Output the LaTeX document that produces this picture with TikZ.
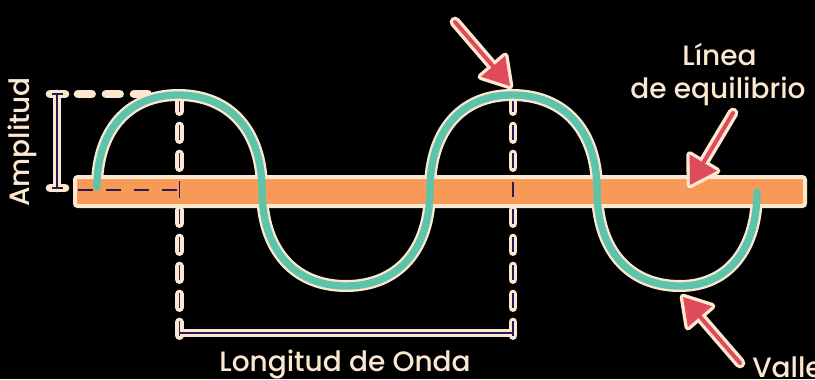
\documentclass[tikz,border=0pt]{standalone}
\usepackage{fontspec}
\setmainfont{Poppins}[UprightFont=* Medium]
\usetikzlibrary{calc}
\definecolor{creamc}{HTML}{FCE7D0}
\definecolor{orangec}{HTML}{F79A57}
\definecolor{tealc}{HTML}{5DC4AB}
\definecolor{redc}{HTML}{E04B5B}
\definecolor{navyc}{HTML}{2B1C55}
\tikzset{
  creamdash/.style={draw=creamc, line width=6.5pt, line cap=round, dash pattern=on 10.25pt off 10.75pt},
  navydash/.style={draw=navyc, line width=1.1pt, dash pattern=on 11.25pt off 9.75pt, dash phase=0.5pt},
  creamline/.style={draw=creamc, line width=6.5pt, line cap=round},
  navyline/.style={draw=navyc, line width=1.1pt},
  txt/.style={text=creamc, font=\fontsize{21}{25}\selectfont, inner sep=0pt},
  wavehalo/.style={draw=creamc, line width=9pt, line cap=round},
  wavecore/.style={draw=tealc, line width=5.5pt, line cap=round},
}
\newcommand\mypointer[3]{% #1 name, #2 start, #3 tip
  \coordinate (#1b) at ($(#3)!19.5pt!(#2)$);
  \coordinate (#1c1) at ($(#1b)!12pt!90:(#3)$);
  \coordinate (#1c2) at ($(#1b)!12pt!-90:(#3)$);
  \draw[creamc, line width=8pt, line cap=round] (#2) -- (#1b);
  \filldraw[creamc, line width=5pt, line join=round] (#3) -- (#1c1) -- (#1c2) -- cycle;
  \draw[redc, line width=3pt, line cap=round] (#2) -- (#1b);
  \fill[redc] (#3) -- (#1c1) -- (#1c2) -- cycle;
}
\begin{document}
\begin{tikzpicture}[x=0.75pt,y=-0.75pt]
\fill[black] (0,0) rectangle (815,379);
\useasboundingbox (0,0) rectangle (815,379);

% key coordinates
\coordinate (w0) at (97,187);
\coordinate (p1) at (178,95);
\coordinate (c1) at (262,190);
\coordinate (t1) at (346,286);
\coordinate (c2) at (430,190);
\coordinate (p2) at (512,95);
\coordinate (c3) at (597,190);
\coordinate (t2) at (680,286);
\coordinate (w1) at (757,192);

\coordinate (v1top) at (179.5,98);
\coordinate (v1bot) at (179.5,336);
\coordinate (v2top) at (513,98);
\coordinate (v2bot) at (513,336);
\coordinate (brl) at (179.5,333);
\coordinate (brr) at (513,333);

\coordinate (amptop) at (57,94);
\coordinate (ampbot) at (57,188);
\coordinate (hd1) at (78,94);
\coordinate (hd2) at (148,94);

% dashed guides (cream)
\draw[creamdash] (v1top) -- (v1bot);
\draw[creamdash] (v2top) -- (v2bot);
\draw[creamdash] (hd1) -- (hd2);
\draw[creamline] (brl) -- (brr);
\draw[creamline] (amptop) -- (ampbot);
\draw[creamline] ($(amptop)+(-7,0)$) -- ($(amptop)+(8,0)$);
\draw[creamline] ($(ampbot)+(-7,0)$) -- ($(ampbot)+(8,0)$);
% navy inner lines
\draw[navydash] (v1top) -- (v1bot);
\draw[navydash] (v2top) -- (v2bot);
\draw[navyline] (brl) -- (brr);
\draw[navyline] (amptop) -- (ampbot);
\draw[navyline] ($(amptop)+(-5,0)$) -- ($(amptop)+(6,0)$);
\draw[navyline] ($(ampbot)+(-5,0)$) -- ($(ampbot)+(6,0)$);

% wave path
\def\wavepath{(w0) .. controls (97,131) and (127.8,95) .. (p1)
  .. controls (230.1,95) and (262,131) .. (c1)
  .. controls (262,249.5) and (293.9,286) .. (t1)
  .. controls (398.1,286) and (430,249.5) .. (c2)
  .. controls (430,131) and (461.2,95) .. (p2)
  .. controls (564.7,95) and (597,131) .. (c3)
  .. controls (597,249.5) and (628.5,286) .. (t2)
  .. controls (727.7,286) and (757,249.5) .. (w1)}
\draw[wavehalo] \wavepath;

% equilibrium bar
\draw[creamc, fill=orangec, line width=3pt, rounded corners=2pt] (75,177) rectangle (805,206);
\draw[navyline, dash pattern=on 11.25pt off 9.75pt] (78,190) -- (177,190);
\draw[navyline] (179.5,181) -- (179.5,198);
\draw[navyline] (513,182) -- (513,197);

\draw[wavecore] \wavepath;

% pointers
\coordinate (a1s) at (455,22);  \coordinate (a1t) at (510,86);
\coordinate (a2s) at (733,113); \coordinate (a2t) at (690,185);
\coordinate (a3s) at (740,363); \coordinate (a3t) at (683,297);
\mypointer{a1}{a1s}{a1t}
\mypointer{a2}{a2s}{a2t}
\mypointer{a3}{a3s}{a3t}

% labels
\node[txt, anchor=base] (lon) at (345,371) {Longitud de Onda};
\node[txt, anchor=base] (lin1) at (719.5,65) {Línea};
\node[txt, anchor=base] (lin2) at (718,98) {de equilibrio};
\node[txt, anchor=base west] (val) at (752,377) {Valle};
\node[txt, rotate=90, anchor=base] (amp) at (30,142) {Amplitud};
\end{tikzpicture}
\end{document}
